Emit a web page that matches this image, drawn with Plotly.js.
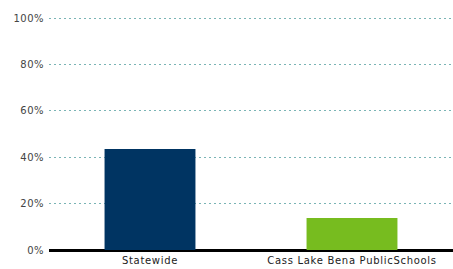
<!DOCTYPE html>
<html><head><meta charset="utf-8">
<script src="https://cdn.plot.ly/plotly-3.0.1.min.js"></script>
<style>html,body{margin:0;padding:0;background:#fff;}#c{width:453px;height:269px;}
.xtick text{letter-spacing:0.7px;}
.ytick text{letter-spacing:0.5px;}
</style>
</head><body><div id="c"></div>
<script>
const categories = ["Statewide", "Cass Lake Bena PublicSchools"];
const values = [43.5, 13.8];
const colors = ["#003462", "#77bc1f"];
const tickVals = [0, 20, 40, 60, 80, 100];
const tickText = ["0%", "20%", "40%", "60%", "80%", "100%"];

Plotly.newPlot("c", [{
  type: "bar", x: categories, y: values,
  marker: {color: colors, line: {width: 0}},
  width: 0.45, hoverinfo: "none"
}], {
  width: 453, height: 269,
  margin: {l: 49, r: 0, t: 16, b: 19},
  paper_bgcolor: "#fff", plot_bgcolor: "#fff",
  showlegend: false,
  font: {family: "DejaVu Sans, sans-serif", size: 10, color: "#333"},
  xaxis: {showgrid: false, showline: false, zeroline: false, ticks: "",
          tickfont: {size: 10, color: "#222"}, ticklabelstandoff: 3},
  yaxis: {range: [0, 100.86], tickvals: tickVals, ticktext: tickText,
          showgrid: true, gridcolor: "#7ab4b5", griddash: "2px,3px", gridwidth: 1,
          zeroline: true, zerolinecolor: "#000", zerolinewidth: 3,
          showline: false, ticks: "", ticklabelstandoff: 4,
          tickfont: {size: 10, color: "#444"}}
}, {staticPlot: true});
</script></body></html>
